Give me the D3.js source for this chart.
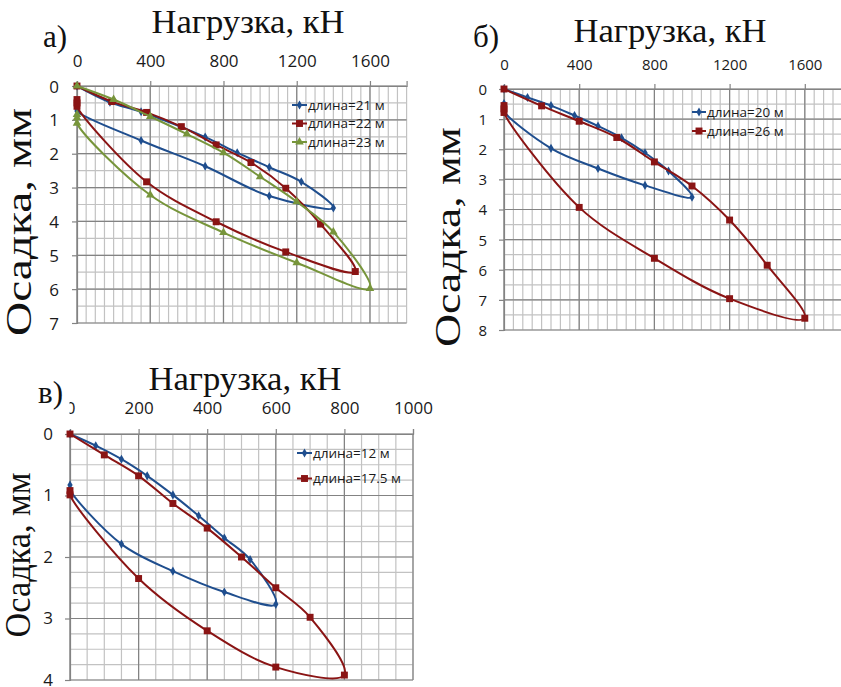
<!DOCTYPE html>
<html>
<head>
<meta charset="utf-8">
<script src="https://cdn.jsdelivr.net/npm/d3@7"></script>
<style>
  body { margin: 0; background: #fff; }
  svg { display: block; }
</style>
</head>
<body>
<svg id="chart" width="841" height="687"></svg>
<script>
// ---- Panel а: load–settlement loops, piles 21, 22, 23 m ----
const loadA21   = [0, 180, 350, 700, 875, 1050, 1225, 1400, 1050, 700, 350, 0, 0];
const settleA21 = [0, 0.48, 0.76, 1.51, 1.97, 2.40, 2.83, 3.60, 3.25, 2.37, 1.61, 0.74, 0.64];
const loadA22   = [0, 190, 380, 570, 760, 950, 1140, 1330, 1520, 1140, 760, 380, 0, 0, 0];
const settleA22 = [0, 0.46, 0.78, 1.20, 1.74, 2.26, 3.02, 4.08, 5.48, 4.90, 4.01, 2.83, 0.60, 0.50, 0.40];
const loadA23   = [0, 200, 400, 600, 800, 1000, 1200, 1400, 1600, 1200, 800, 400, 0, 0, 0];
const settleA23 = [0, 0.40, 0.90, 1.42, 1.97, 2.68, 3.42, 4.31, 5.98, 5.22, 4.33, 3.22, 1.10, 0.94, 0.84];

// ---- Panel б: piles 20 and 26 m ----
const loadB20   = [0, 125, 250, 375, 500, 625, 750, 875, 1000, 750, 500, 250, 0, 0, 0];
const settleB20 = [0, 0.28, 0.55, 0.88, 1.23, 1.62, 2.12, 2.72, 3.59, 3.20, 2.64, 1.97, 0.74, 0.62, 0.48];
const loadB26   = [0, 200, 400, 600, 800, 1000, 1200, 1400, 1600, 1200, 800, 400, 0, 0, 0];
const settleB26 = [0, 0.56, 1.07, 1.61, 2.42, 3.22, 4.35, 5.85, 7.61, 6.96, 5.62, 3.93, 0.78, 0.66, 0.55];

// ---- Panel в: piles 12 and 17.5 m ----
const loadC12    = [0, 75, 150, 225, 300, 375, 450, 525, 600, 450, 300, 150, 0, 0];
const settleC12  = [0, 0.19, 0.41, 0.68, 0.99, 1.33, 1.69, 2.04, 2.77, 2.57, 2.23, 1.79, 0.90, 0.83];
const loadC175   = [0, 100, 200, 300, 400, 500, 600, 700, 800, 600, 400, 200, 0, 0];
const settleC175 = [0, 0.34, 0.68, 1.13, 1.53, 2.00, 2.50, 2.98, 3.92, 3.79, 3.20, 2.35, 0.99, 0.92];

// tick labels
const ticksX1800 = [0, 400, 800, 1200, 1600];
const ticksX1000 = [0, 200, 400, 600, 800, 1000];
const ticksY7 = [0, 1, 2, 3, 4, 5, 6, 7];
const ticksY8 = [0, 1, 2, 3, 4, 5, 6, 7, 8];
const ticksY4 = [0, 1, 2, 3, 4];

// series names
const namesA = ["длина=21 м", "длина=22 м", "длина=23 м"];
const namesB = ["длина=20 м", "длина=26 м"];
const namesC = ["длина=12 м", "длина=17.5 м"];

const xTitle = "Нагрузка, кН";
const yTitle = "Осадка, мм";

const BLUE = "#1f4e8e", RED = "#8a1414", GREEN = "#77953b";
const MARK = {
  diamond:  { type: d3.symbolDiamond,  size: 24 },
  square:   { type: d3.symbolSquare,   size: 48 },
  triangle: { type: d3.symbolTriangle, size: 32 }
};

const svg = d3.select("#chart");
const serif = "'Liberation Serif', 'Times New Roman', serif";
const sans = "'Open Sans', 'DejaVu Sans', sans-serif";

function zip(xs, ys) { return xs.map((v, i) => ({ x: v, y: ys[i] })); }

function drawPanel(p) {
  const g = svg.append("g");
  const x = d3.scaleLinear().domain([0, p.xMax]).range([p.left, p.right]);
  const y = d3.scaleLinear().domain([0, p.yMax]).range([p.top, p.bottom]);

  // minor grid
  const grid = g.append("g");
  grid.selectAll("line.vmin").data(d3.range(0, p.xMax + 1e-6, p.xMinor)).join("line")
    .attr("x1", d => x(d)).attr("x2", d => x(d))
    .attr("y1", p.top).attr("y2", p.bottom)
    .attr("stroke", "#c2c2c2").attr("stroke-width", 1.2);
  grid.selectAll("line.hmin").data(d3.range(0, p.yMax + 1e-6, p.yMinor)).join("line")
    .attr("y1", d => y(d)).attr("y2", d => y(d))
    .attr("x1", p.left).attr("x2", p.right)
    .attr("stroke", "#c2c2c2").attr("stroke-width", 1.2);
  // major grid
  grid.selectAll("line.vmaj").data(p.xTicks).join("line")
    .attr("x1", d => x(d)).attr("x2", d => x(d))
    .attr("y1", p.top).attr("y2", p.bottom)
    .attr("stroke", "#838383").attr("stroke-width", 1.2);
  grid.selectAll("line.hmaj").data(p.yTicks).join("line")
    .attr("y1", d => y(d)).attr("y2", d => y(d))
    .attr("x1", p.left).attr("x2", p.right)
    .attr("stroke", "#838383").attr("stroke-width", 1.2);

  // axes (tick marks + labels)
  const ax = g.append("g").attr("transform", `translate(0,${p.top})`)
    .call(d3.axisTop(x).tickValues(p.xTicks).tickSize(5).tickPadding(p.xPad).tickFormat(d3.format("d")));
  const ay = g.append("g").attr("transform", `translate(${p.left},0)`)
    .call(d3.axisLeft(y).tickValues(p.yTicks).tickSize(5).tickPadding(p.yPad).tickFormat(d3.format("d")));
  [ax, ay].forEach(a => {
    a.select(".domain").attr("stroke", "#838383").attr("stroke-width", 1.2);
    a.selectAll(".tick line").attr("stroke", "#838383").attr("stroke-width", 1.2);
    a.selectAll(".tick text").attr("fill", "#1a1a1a")
      .style("font-family", sans).style("font-size", p.tickFont + "px");
  });
  ax.selectAll(".tick text").attr("dy", "0em");
  ay.selectAll(".tick text").attr("dy", p.yDy || "0.36em");

  // series
  const line = d3.line().x(d => x(d.x)).y(d => y(d.y)).curve(d3.curveCatmullRom.alpha(0.5));
  p.series.forEach(s => {
    const pts = zip(s.load, s.settle);
    g.append("path").datum(pts).attr("d", line)
      .attr("fill", "none").attr("stroke", s.color).attr("stroke-width", 2);
    g.selectAll(null).data(pts).join("path")
      .attr("transform", d => `translate(${x(d.x)},${y(d.y)})`)
      .attr("d", d3.symbol().type(MARK[s.marker].type).size(MARK[s.marker].size))
      .attr("fill", s.color);
  });

  // legend
  const lg = g.append("g");
  p.series.forEach((s, i) => {
    const ly = p.legend.y + i * p.legend.dy;
    lg.append("line")
      .attr("x1", p.legend.x).attr("x2", p.legend.x + p.legend.len)
      .attr("y1", ly).attr("y2", ly)
      .attr("stroke", s.color).attr("stroke-width", 2);
    lg.append("path")
      .attr("transform", `translate(${p.legend.x + p.legend.len / 2},${ly})`)
      .attr("d", d3.symbol().type(MARK[s.marker].type).size(MARK[s.marker].size))
      .attr("fill", s.color);
    lg.append("text")
      .attr("x", p.legend.x + p.legend.len + 1).attr("y", ly).attr("dy", "0.35em")
      .style("font-family", sans).style("font-size", p.legend.font + "px")
      .attr("fill", "#1a1a1a").text(s.name);
  });

  // titles
  g.append("text").attr("x", p.xTitle.x).attr("y", p.xTitle.y)
    .attr("text-anchor", "middle")
    .style("font-family", serif).style("font-size", p.xTitle.size + "px")
    .attr("textLength", p.xTitle.len).attr("lengthAdjust", "spacingAndGlyphs")
    .attr("fill", "#111").text(xTitle);
  g.append("text")
    .attr("transform", `translate(${p.yTitle.x},${p.yTitle.y}) rotate(-90)`)
    .attr("text-anchor", "middle")
    .style("font-family", serif).style("font-size", p.yTitle.size + "px")
    .attr("textLength", p.yTitle.len).attr("lengthAdjust", "spacingAndGlyphs")
    .attr("fill", "#111").text(yTitle);
  if (p.tag.box) {
    g.append("rect").attr("x", p.tag.box[0]).attr("y", p.tag.box[1])
      .attr("width", p.tag.box[2]).attr("height", p.tag.box[3]).attr("fill", "#fff");
  }
  g.append("text").attr("x", p.tag.x).attr("y", p.tag.y)
    .style("font-family", serif).style("font-size", p.tag.size + "px")
    .attr("fill", "#111").text(p.tag.text);
}

drawPanel({
  left: 77, right: 406.6, top: 86, bottom: 323,
  xMax: 1800, yMax: 7, xMinor: 50, yMinor: 0.5,
  xTicks: ticksX1800, yTicks: ticksY7, xPad: 14, yPad: 13, tickFont: 17,
  series: [
    { name: namesA[0], load: loadA21, settle: settleA21, color: BLUE,  marker: "diamond" },
    { name: namesA[1], load: loadA22, settle: settleA22, color: RED,   marker: "square" },
    { name: namesA[2], load: loadA23, settle: settleA23, color: GREEN, marker: "triangle" }
  ],
  legend: { x: 292, y: 105, dy: 18.5, len: 15, font: 13.5 },
  xTitle: { x: 248, y: 33, size: 33, len: 193 },
  yTitle: { x: 31, y: 222, size: 36, len: 228 },
  tag: { text: "а)", x: 43, y: 47, size: 31 }
});

drawPanel({
  left: 504, right: 842.4, top: 89, bottom: 330,
  xMax: 1800, yMax: 8, xMinor: 50, yMinor: 0.5,
  xTicks: ticksX1800, yTicks: ticksY8, xPad: 14, yPad: 12, tickFont: 15,
  series: [
    { name: namesB[0], load: loadB20, settle: settleB20, color: BLUE, marker: "diamond" },
    { name: namesB[1], load: loadB26, settle: settleB26, color: RED,  marker: "square" }
  ],
  legend: { x: 692, y: 112, dy: 19, len: 14, font: 13.5 },
  xTitle: { x: 670, y: 41.5, size: 33, len: 193 },
  yTitle: { x: 460, y: 237, size: 36, len: 220 },
  tag: { text: "б)", x: 473, y: 47, size: 31 }
});

drawPanel({
  left: 70, right: 413, top: 434, bottom: 680,
  xMax: 1000, yMax: 4, xMinor: 50, yMinor: 0.25,
  xTicks: ticksX1000, yTicks: ticksY4, xPad: 15, yPad: 12, tickFont: 17, yDy: "0.3em",
  series: [
    { name: namesC[0], load: loadC12,  settle: settleC12,  color: BLUE, marker: "diamond" },
    { name: namesC[1], load: loadC175, settle: settleC175, color: RED,  marker: "square" }
  ],
  legend: { x: 297, y: 453, dy: 25.5, len: 15, font: 13.5 },
  xTitle: { x: 245, y: 390, size: 33, len: 193 },
  yTitle: { x: 30, y: 555, size: 36, len: 165 },
  tag: { text: "в)", x: 38, y: 403, size: 31, box: [36, 392, 33.5, 22] }
});
</script>
</body>
</html>
